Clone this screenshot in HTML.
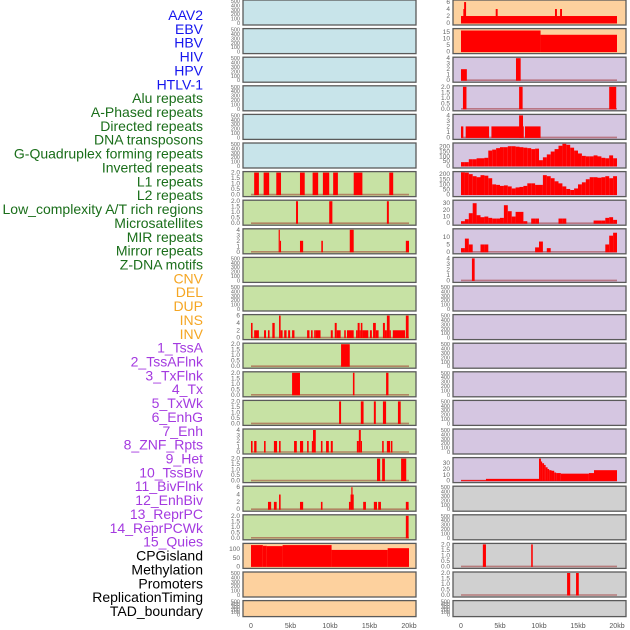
<!DOCTYPE html>
<html><head><meta charset="utf-8"><style>
html,body{margin:0;padding:0;background:#fff;}
svg{display:block;font-family:"Liberation Sans",sans-serif;}
</style></head><body>
<svg id="chart" width="630" height="630" viewBox="0 0 630 630"></svg>
<script>
// ---------- labels ----------
const labelNames = ["AAV2","EBV","HBV","HIV","HPV","HTLV-1","Alu repeats","A-Phased repeats","Directed repeats","DNA transposons","G-Quadruplex forming repeats","Inverted repeats","L1 repeats","L2 repeats","Low_complexity A/T rich regions","Microsatellites","MIR repeats","Mirror repeats","Z-DNA motifs","CNV","DEL","DUP","INS","INV","1_TssA","2_TssAFlnk","3_TxFlnk","4_Tx","5_TxWk","6_EnhG","7_Enh","8_ZNF_Rpts","9_Het","10_TssBiv","11_BivFlnk","12_EnhBiv","13_ReprPC","14_ReprPCWk","15_Quies","CPGisland","Methylation","Promoters","ReplicationTiming","TAD_boundary"];
const labelGroups = [6,13,5,15,5];
const xTicks = [0,5,10,15,20];
const xTickLabels = ["0","5kb","10kb","15kb","20kb"];
const emptyTicks = [0,100,200,300,400,500];

// ---------- left column data: [startKb, endKb, value] ----------
const L7 = [[0.4,1.0,2],[1.6,2.3,2],[3.2,3.8,2],[6.2,6.8,2],[7.8,8.5,2],[9.1,9.9,2],[10.4,11.0,2],[13.0,14.1,2],[17.5,18.0,2]];
const L8 = [[5.7,5.95,2],[9.9,10.3,2],[17.2,17.45,2]];
const L9 = [[3.5,3.65,4],[3.65,3.75,2],[6.2,6.6,2],[8.9,9.1,2],[12.5,13.0,4],[19.6,20.0,2]];
const L12 = [[0,0.2,4],[0.4,1.0,2],[1.65,1.9,2],[2.15,2.35,2],[2.7,3.0,4],[3.55,3.75,6],[3.75,4.0,2],[4.2,4.5,2],[4.7,4.95,2],[5.2,5.5,2],[7.1,7.4,2],[7.6,7.8,2],[8.0,8.2,2],[8.2,8.8,2],[10.1,10.35,2],[10.6,10.85,4],[10.85,11.35,2],[11.8,12.0,2],[12.15,13.0,2],[13.3,13.5,2],[13.5,13.75,4],[13.75,13.9,2],[13.9,14.1,4],[14.1,14.85,2],[15.05,15.3,2],[15.45,15.8,4],[15.8,16.15,2],[16.7,16.95,4],[16.95,17.2,2],[17.2,17.55,6],[17.55,17.7,2],[17.95,19.5,2],[19.6,19.95,6]];
const L13 = [[11.4,12.5,2]];
const L14 = [[5.2,6.2,2],[12.9,13.1,2],[17.1,17.4,2]];
const L15 = [[11.15,11.4,2],[13.9,14.25,2],[15.55,15.8,2],[16.7,17.1,2],[18.6,18.95,2]];
const L16 = [[0,0.2,2],[0.4,0.7,2],[1.65,1.85,2],[2.9,3.3,2],[3.55,3.75,2],[5.45,5.8,2],[6.2,6.6,2],[7.1,7.3,2],[7.7,7.85,2],[7.85,8.2,4],[8.85,9.05,2],[9.5,9.85,2],[10.1,10.35,2],[13.4,13.65,2],[13.65,13.9,4],[13.9,14.05,2],[16.6,16.8,2],[17.2,17.6,2],[17.7,17.9,2]];
const L17 = [[15.95,16.35,2],[16.6,16.95,2],[19.0,19.65,2]];
const L18 = [[2.15,2.55,2],[2.9,3.25,2],[3.55,3.75,4],[6.2,6.6,2],[8.85,9.05,2],[12.4,12.6,2],[12.6,12.7,4],[12.7,12.85,6],[12.85,13.0,4],[14.2,14.55,2],[15.55,15.95,2],[16.1,16.45,2],[19.6,19.95,2]];
const L19 = [[19.6,19.95,2]];
const L20 = [[0,1.5,124],[1.5,2.0,120],[2.0,4.0,118],[4.0,10.2,124],[10.2,17.3,96],[17.3,20.0,106]];

// ---------- right column data ----------
const R1 = [[0,20,2],[0.3,0.4,4],[0.4,0.65,6],[4.45,4.7,4],[12.05,12.3,4],[12.7,12.95,4]];
const R2 = [[0,10.2,16.3],[10.2,20,13]];
const R3 = [[0,0.75,2],[7.05,7.65,4]];
const R4 = [[0.25,0.7,2],[7.45,7.9,2],[19.0,19.9,2]];
const R5 = [[0,0.3,2],[0.6,3.6,2],[3.9,8.05,2],[7.45,7.95,4],[8.2,10.2,2]];
// density tracks, 0.5kb bins
const R6bins = [40,40,70,70,80,80,85,160,170,185,195,195,205,205,200,195,190,185,175,180,60,90,120,150,175,210,230,220,190,160,130,105,100,100,110,100,85,80,110,80];
const R7bins = [230,215,200,180,170,190,185,160,100,95,85,90,80,60,70,75,85,110,110,95,95,190,180,160,130,110,80,55,45,60,100,120,150,170,170,165,170,180,160,180];
const R8bins = [3,6,15,30,12,9,10,8,7,7,8,27,18,10,17,17,3,0,7,7,0,0,0,0,0,7,7,0,0,0,0,0,0,0,4,4,4,8,9,5];
const R9bins = [2.5,9,5,0,0,5,5,0,0,0,0,0,0,0,0,0,0,0,0,3,7,0,2.5,0,0,0,0,0,0,0,0,0,0,0,0,0,0,5,11,13];
const R10 = [[1.4,1.75,4]];
const R17 = [[0,3.2,0.6],[3.2,10,3],[10,10.25,38],[10.25,10.4,33],[10.4,10.65,30],[10.65,10.85,27],[10.85,11.1,23],[11.1,11.3,20],[11.3,11.6,18],[11.6,11.95,17],[11.95,12.2,14],[12.2,12.8,13],[12.8,16.4,12],[16.4,17.05,13],[17.05,20,18]];
const R20 = [[2.8,3.2,2],[9.0,9.2,2]];
const R21 = [[13.6,14.0,2],[14.75,15.1,2]];

function binsToBars(b){ return b.map((v,i)=>[i*0.5,(i+1)*0.5,v]); }

const C_BLUE="#c8e4ea", C_OR="#fdd19e", C_PU="#d5c6e1", C_GR="#c7e2a4", C_GY="#d0d0d0";
const t2=[0,0.5,1,1.5,2], t4=[0,1,2,3,4], t6=[0,2,4,6];
// row specs: [bg, data, max, ticks, baseline]
const leftRows = [
 [C_BLUE,null],[C_BLUE,null],[C_BLUE,null],[C_BLUE,null],[C_BLUE,null],[C_BLUE,null],
 [C_GR,L7,2,t2],[C_GR,L8,2,t2],[C_GR,L9,4,t4],[C_GR,null],[C_GR,null],[C_GR,L12,6,t6],
 [C_GR,L13,2,t2],[C_GR,L14,2,t2],[C_GR,L15,2,t2],[C_GR,L16,4,t4],[C_GR,L17,2,t2],[C_GR,L18,6,t6],[C_GR,L19,2,t2],
 [C_OR,L20,128,[0,50,100],false],[C_OR,null],[C_OR,null]
];
const rightRows = [
 [C_OR,R1,6.3,t6,false],[C_OR,R2,17,[0,5,10,15],false],[C_PU,R3,4,t4],[C_PU,R4,2,t2],[C_PU,R5,4,t4],
 [C_PU,binsToBars(R6bins),228,[0,50,100,150,200],false],[C_PU,binsToBars(R7bins),215,[0,50,100,150,200],false],
 [C_PU,binsToBars(R8bins),33,[0,10,20,30]],[C_PU,binsToBars(R9bins),15,[0,5,10]],[C_PU,R10,4,t4],
 [C_PU,null],[C_PU,null],[C_PU,null],[C_PU,null],[C_PU,null],[C_PU,null],
 [C_PU,R17,38,[0,10,20,30]],[C_GY,null],[C_GY,null],[C_GY,R20,2,t2],[C_GY,R21,2,t2],[C_GY,null]
];

const svg=document.getElementById('chart');
const NS="http://www.w3.org/2000/svg";
function mk(tag,attrs,parent){const e=document.createElementNS(NS,tag);for(const k in attrs)e.setAttribute(k,attrs[k]);(parent||svg).appendChild(e);return e;}

// labels
const groupColors=["#1515ee","#1a6e1a","#f5a623","#a43ae0","#000000"];
let gi=0,cnt=0;
labelNames.forEach((n,i)=>{
  while(cnt>=labelGroups[gi]){cnt=0;gi++;}
  cnt++;
  const t=mk('text',{x:203,y:15+i*13.86+5,'text-anchor':'end','font-size':'14',fill:groupColors[gi]});
  
  
  t.textContent=n;
});

function fmt(v,ticks){const dec=ticks.some(x=>x%1!==0);return dec?v.toFixed(1):String(v);}

function panel(col,ri,spec){
  const px0 = col===0?243:453, pw=173;
  const kb0 = col===0?251:461, kbs = col===0?7.9:7.8;
  const top = ri*28.6, h = ri===21?16:25, bot=top+h;
  const g=mk('g',{});
  
  
  const r=mk('rect',{x:px0,y:top,width:pw,height:h,fill:spec[0],stroke:'#5a5a5a','stroke-width':1.3},g);
  
  
  const data=spec[1];
  const max=data?spec[2]:500, ticks=data?spec[3]:emptyTicks;
  const yv=v=>bot-2-Math.min(v,max*1.05)/max*(h-3);
  const xv=k=>kb0+k*kbs;
  ticks.forEach(tv=>{
    const t=mk('text',{x:px0-3,y:yv(tv)+2,'text-anchor':'end','font-size':data?'6.5':'5.5',fill:'#666'},g);
    
    
    t.textContent=fmt(tv,ticks);
  });
  if(data){
    if(spec[4]!==false){
      const bl=mk('line',{x1:xv(0),x2:xv(20),y1:bot-2,y2:bot-2,stroke:'rgba(150,20,20,0.45)','stroke-width':1.6},g);
      
      
    }
    data.forEach(d=>{
      if(d[2]<=0)return;
      const y=Math.max(yv(d[2]),top+0.7);
      const b=mk('rect',{x:xv(d[0]),y:y,width:Math.max(xv(d[1])-xv(d[0]),1.2),height:bot-2-y+0.5,fill:'#ff0000'},g);
      
      
    });
  }
}
leftRows.forEach((s,i)=>panel(0,i,s));
rightRows.forEach((s,i)=>panel(1,i,s));

// x axis labels
[0,1].forEach(col=>{
  const kb0 = col===0?251:461, kbs = col===0?7.9:7.8;
  xTicks.forEach((k,i)=>{
    const t=mk('text',{x:kb0+k*kbs,y:628,'text-anchor':'middle','font-size':'7',fill:'#555'});
    
    
    t.textContent=xTickLabels[i];
  });
});
</script>
</body></html>
